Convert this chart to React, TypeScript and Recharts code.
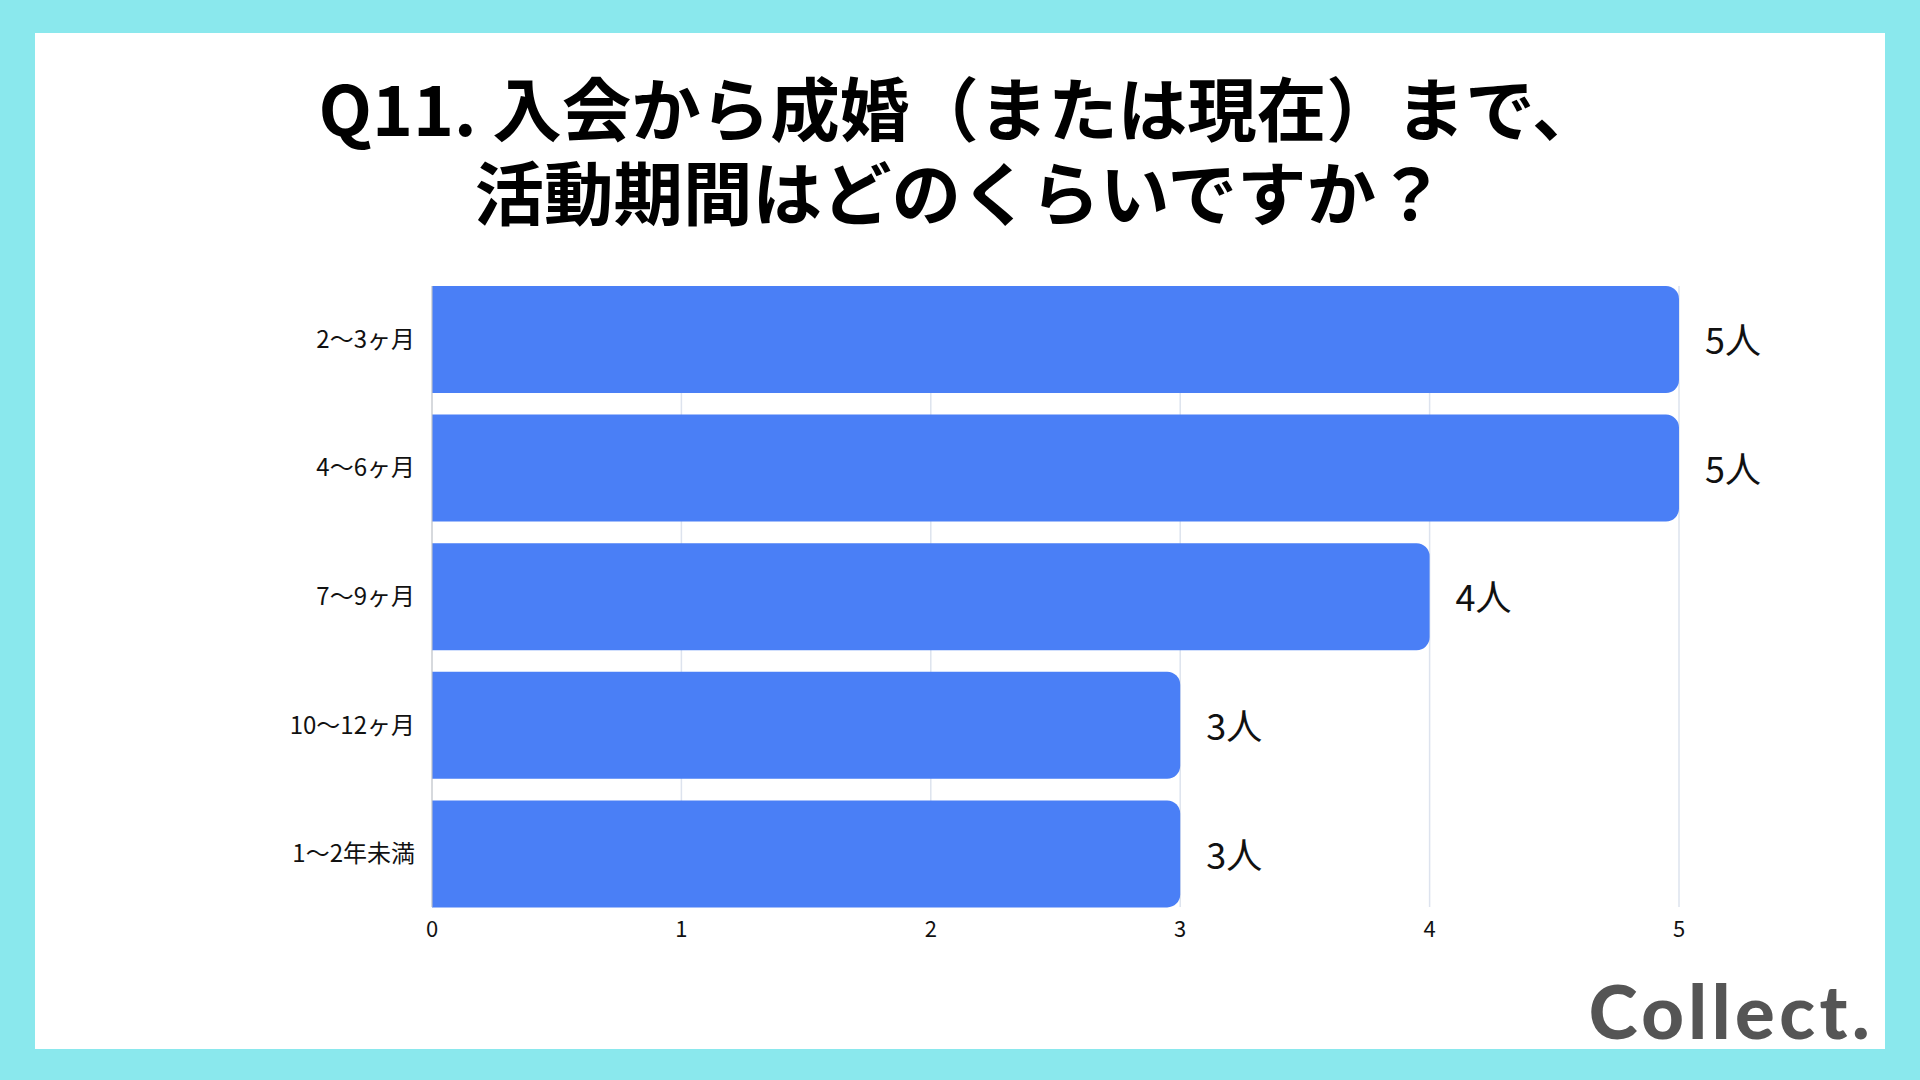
import { BarChart, Bar, XAxis, YAxis, CartesianGrid, LabelList } from "recharts";

const categories = ["2〜3ヶ月", "4〜6ヶ月", "7〜9ヶ月", "10〜12ヶ月", "1〜2年未満"];
const counts = [5, 5, 4, 3, 3];
const xTicks = [0, 1, 2, 3, 4, 5];
const unit = "人";

const titleLines = ["Q11. 入会から成婚（または現在）まで、", "活動期間はどのくらいですか？"];

const data = categories.map((name, i) => ({ name, value: counts[i] }));

const JP = '"Noto Sans CJK JP", "Noto Sans", sans-serif';

export default function App() {
  return (
    <div
      style={{
        position: "absolute",
        left: 0,
        top: 0,
        width: 1920,
        height: 1080,
        background: "#8ae8ed",
        fontFamily: JP,
        overflow: "hidden",
      }}
    >
      <div
        style={{
          position: "absolute",
          left: 35,
          top: 33,
          width: 1850,
          height: 1016,
          background: "#ffffff",
        }}
      />
      <div
        style={{
          position: "absolute",
          left: 0,
          top: 64,
          width: 1920,
          textAlign: "center",
          fontSize: 69.5,
          lineHeight: "84px",
          fontWeight: 700,
          color: "#000",
        }}
      >
        {titleLines[0]}
        <br />
        {titleLines[1]}
      </div>
      <div style={{ position: "absolute", left: 0, top: 0 }}>
        <BarChart
          width={1920}
          height={1080}
          data={data}
          layout="vertical"
          margin={{ top: 286, right: 241, bottom: 113, left: 0 }}
        >
          <CartesianGrid horizontal={false} stroke="#dde3ee" strokeWidth={1.5} />
          <XAxis
            type="number"
            domain={[0, 5]}
            ticks={xTicks}
            axisLine={false}
            tickLine={false}
            tickSize={0}
            tickMargin={14}
            height={60}
            tick={{ fontSize: 22, fill: "#111", fontFamily: JP }}
          />
          <YAxis
            type="category"
            dataKey="name"
            width={432}
            padding={{ top: -11, bottom: -11 }}
            axisLine={{ stroke: "#c8c8c8" }}
            tickLine={false}
            tickSize={0}
            tickMargin={17}
            tick={{ fontSize: 24, fill: "#111", fontFamily: JP }}
          />
          <Bar dataKey="value" fill="#4a7ff6" barSize={107} radius={[0, 13, 13, 0]} isAnimationActive={false}>
            <LabelList
              dataKey="value"
              position="right"
              offset={26}
              formatter={(v: number) => `${v}${unit}`}
              style={{ fontSize: 36, fill: "#111", fontFamily: JP, transform: "translateY(2px)" }}
            />
          </Bar>
        </BarChart>
      </div>
      <div
        style={{
          position: "absolute",
          right: 46,
          top: 966,
          fontFamily: "Lato, sans-serif",
          fontWeight: 900,
          fontSize: 74,
          lineHeight: "90px",
          letterSpacing: 4.5,
          color: "#555555",
        }}
      >
        Collect.
      </div>
    </div>
  );
}
